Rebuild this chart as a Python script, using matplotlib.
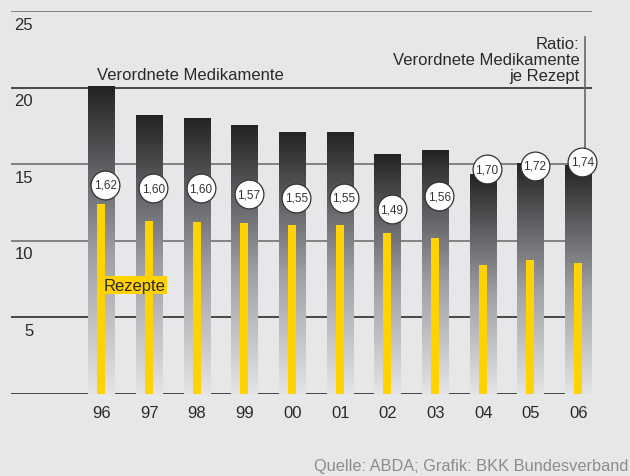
import matplotlib
matplotlib.use("Agg")
import matplotlib.pyplot as plt
import numpy as np

years = ["96", "97", "98", "99", "00", "01", "02", "03", "04", "05", "06"]
medikamente = [20.1, 18.15, 18.0, 17.55, 17.1, 17.1, 15.65, 15.9, 14.35, 15.05, 14.9]
rezepte = [12.4, 11.3, 11.25, 11.15, 11.0, 11.0, 10.5, 10.2, 8.45, 8.75, 8.55]
ratio = [1.62, 1.60, 1.60, 1.57, 1.55, 1.55, 1.49, 1.56, 1.70, 1.72, 1.74]
ratio_labels = ["1,62", "1,60", "1,60", "1,57", "1,55", "1,55", "1,49", "1,56", "1,70", "1,72", "1,74"]
yticks = [5, 10, 15, 20, 25]

plt.rcParams['font.family'] = ['Liberation Sans', 'DejaVu Sans']

BG = "#e6e7e9"
YELLOW = "#ffd200"
TXT = "#2a2a2a"
W, H = 630, 477
fig = plt.figure(figsize=(W / 100, H / 100), dpi=100, facecolor=BG)
ax = fig.add_axes([11 / W, (H - 395) / H, (592 - 11) / W, (395 - 12) / H])
ax.set_facecolor(BG)
ax.set_xlim(-1.9, 10.28)
ax.set_ylim(0, 25)
for s in ax.spines.values():
    s.set_visible(False)
ax.set_xticks([])
ax.set_yticks([])

x = np.arange(len(years))

# gridlines
line_cols = {0: "#3a3a3a", 5: "#3a3a3a", 10: "#7a7a7a", 15: "#7a7a7a", 20: "#3a3a3a", 25: "#7a7a7a"}
for yv, c in line_cols.items():
    ax.axhline(yv, color=c, lw=1.3, zorder=1)

# y tick labels (below lines, right aligned)
for yv in yticks:
    ax.annotate(str(yv), xy=(0, yv), xycoords=("axes fraction", "data"),
                xytext=(16, -4), textcoords="offset points", ha="right", va="top",
                fontsize=12, color=TXT)

# gradient bars
bw = 0.566
bars = ax.bar(x, medikamente, width=bw, color="none", zorder=2)
cmap = matplotlib.colors.LinearSegmentedColormap.from_list(
    "g", [(0.0, "#e4e4e6"), (0.45, "#a0a1a4"), (0.75, "#5c5d60"), (1.0, "#232323")])
grad = np.linspace(0, 1, 256).reshape(-1, 1)
for b in bars:
    x0 = b.get_x()
    h = b.get_height()
    ax.imshow(grad, cmap=cmap, origin="lower", aspect="auto",
              extent=[x0, x0 + b.get_width(), 0, h], zorder=2, interpolation="bicubic")

# yellow bars
ax.bar(x - 0.01, rezepte, width=0.168, color=YELLOW, zorder=3)

# ratio circles on secondary scale
ax2 = ax.twinx()
ax2.set_ylim(0.518, 2.534)
ax2.set_axis_off()
ax2.scatter(x + 0.08, ratio, s=430, facecolor="white", edgecolor="#333333", linewidth=0.9,
            zorder=5, clip_on=False)
for xi, r, lab in zip(x, ratio, ratio_labels):
    ax2.text(xi + 0.08, r, lab, ha="center", va="center", fontsize=8.5, color="#333333",
             zorder=6, clip_on=False)

# vertical pointer line to last circle
ax.plot([10.14, 10.14], [16.0, 23.3], color="#666666", lw=1.2, zorder=1, clip_on=False)

# texts
ax.text(-0.1, 20.55, "Verordnete Medikamente", fontsize=12, color=TXT, ha="left", va="baseline")
for lab, ypx in zip(["Ratio:", "Verordnete Medikamente", "je Rezept"], [49, 65, 80.5]):
    fig.text(579.5 / W, 1 - ypx / H, lab, fontsize=12, color=TXT, ha="right", va="baseline")
ax.text(0.05, 7.1, "Rezepte", fontsize=12, color=TXT, ha="left", va="center", zorder=4,
        bbox=dict(boxstyle="square,pad=0.08", facecolor=YELLOW, edgecolor="none"))

for xi, lab in zip(x, years):
    ax.annotate(lab, xy=(xi, 0), xycoords="data", xytext=(0, -8), textcoords="offset points",
                ha="center", va="top", fontsize=12, color=TXT)

fig.text(628 / W, 1 - 467 / H, "Quelle: ABDA; Grafik: BKK Bundesverband", fontsize=11.8,
         color="#8c8c8c", ha="right", va="center")

fig.savefig("out.png", dpi=100, facecolor=BG)
